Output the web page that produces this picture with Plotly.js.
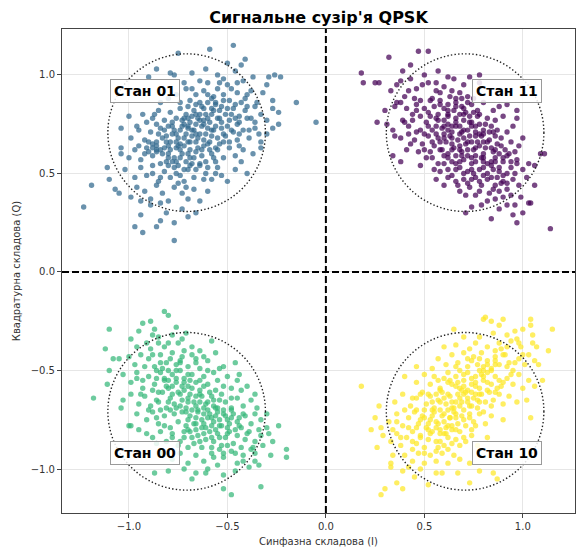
<!DOCTYPE html>
<html>
<head>
<meta charset="utf-8">
<script src="https://cdn.plot.ly/plotly-3.0.1.min.js"></script>
<style>html,body{margin:0;padding:0;background:#fff}#chart{width:578px;height:549px}</style>
</head>
<body>
<div id="chart"></div>
<script>
// ---- data ----
const stateNames = ['Стан 11', 'Стан 01', 'Стан 00', 'Стан 10'];
const stateColors = ['#440154', '#31688e', '#35b779', '#fde725'];
const idealI = [0.707, -0.707, -0.707, 0.707];
const idealQ = [0.707, 0.707, -0.707, -0.707];
const labelI = [0.92, -0.92, -0.92, 0.92];
const labelQ = [0.92, 0.92, -0.92, -0.92];
const circleRadius = 0.4;
const tickVals = [-1.0, -0.5, 0.0, 0.5, 1.0];

const pts01 = [
[-0.75,1.11],[-0.59,1.13],[-0.47,1.15],[-0.41,1.08],[-0.50,1.06],[-0.43,1.05],
[-0.90,0.99],[-0.86,1.03],[-0.79,1.01],[-0.77,1.00],[-0.68,1.01],[-0.61,1.03],[-0.55,1.00],[-0.52,0.98],[-0.46,1.02],[-0.42,0.97],[-0.29,0.99],[-0.26,1.00],[-0.23,0.99],[-0.37,0.99],[-0.64,0.97],[-0.72,0.96],[-0.50,0.95],[-0.45,0.96],[-0.30,0.95],
[-0.71,0.93],[-0.66,0.90],[-0.62,0.92],[-0.58,0.88],[-0.55,0.93],[-0.52,0.90],[-0.49,0.87],[-0.45,0.91],[-0.41,0.88],[-0.38,0.92],[-0.35,0.86],[-0.32,0.91],[-0.27,0.87],[-0.15,0.86],[-0.69,0.87],[-0.74,0.86],[-0.60,0.86],[-0.56,0.85],[-0.80,0.88],[-0.84,0.86],[-0.43,0.86],
[-1.00,0.79],[-0.93,0.80],[-0.88,0.78],[-0.85,0.82],[-0.82,0.77],[-0.79,0.81],[-0.76,0.78],[-0.74,0.83],[-0.71,0.80],[-0.69,0.76],[-0.67,0.82],[-0.65,0.78],[-0.63,0.84],[-0.61,0.80],[-0.59,0.76],[-0.57,0.82],[-0.55,0.78],[-0.53,0.84],[-0.51,0.80],[-0.49,0.77],[-0.47,0.83],[-0.44,0.79],[-0.41,0.82],[-0.38,0.78],[-0.36,0.84],[-0.33,0.80],[-0.30,0.77],[-0.24,0.81],[-0.24,0.75],[-0.05,0.76],[-0.27,0.83],[-0.72,0.75],[-0.62,0.75],[-0.58,0.80],[-0.66,0.80],[-0.70,0.84],[-0.78,0.76],[-0.86,0.75],[-0.53,0.76],[-0.45,0.75],
[-1.04,0.73],[-0.99,0.68],[-0.95,0.72],[-0.92,0.67],[-0.89,0.71],[-0.86,0.66],[-0.84,0.73],[-0.81,0.69],[-0.79,0.66],[-0.77,0.72],[-0.75,0.68],[-0.73,0.74],[-0.71,0.70],[-0.69,0.66],[-0.67,0.72],[-0.65,0.68],[-0.63,0.74],[-0.61,0.70],[-0.59,0.66],[-0.57,0.72],[-0.55,0.68],[-0.53,0.73],[-0.51,0.69],[-0.49,0.66],[-0.47,0.71],[-0.45,0.67],[-0.42,0.72],[-0.39,0.68],[-0.36,0.73],[-0.33,0.66],[-0.30,0.70],[-0.27,0.73],[-0.80,0.74],[-0.70,0.73],[-0.60,0.73],[-0.66,0.66],[-0.74,0.65],[-0.83,0.68],[-0.88,0.65],[-0.54,0.65],[-0.62,0.67],[-0.76,0.70],[-0.68,0.69],[-0.58,0.69],
[-1.04,0.63],[-1.04,0.60],[-1.00,0.58],[-0.97,0.62],[-0.94,0.57],[-0.91,0.63],[-0.88,0.59],[-0.86,0.64],[-0.83,0.60],[-0.81,0.56],[-0.79,0.62],[-0.77,0.58],[-0.75,0.64],[-0.73,0.60],[-0.71,0.56],[-0.69,0.62],[-0.67,0.58],[-0.65,0.63],[-0.63,0.59],[-0.61,0.56],[-0.59,0.62],[-0.57,0.58],[-0.55,0.62],[-0.52,0.58],[-0.49,0.63],[-0.46,0.59],[-0.43,0.56],[-0.42,0.62],[-0.37,0.60],[-0.33,0.63],[-0.84,0.55],[-0.72,0.64],[-0.64,0.55],[-0.56,0.56],[-0.68,0.55],[-0.76,0.56],[-0.86,0.61],[-0.80,0.64],
[-1.11,0.53],[-1.10,0.47],[-1.02,0.52],[-0.97,0.48],[-0.94,0.53],[-0.91,0.49],[-0.88,0.54],[-0.85,0.46],[-0.82,0.51],[-0.79,0.48],[-0.77,0.53],[-0.74,0.49],[-0.72,0.46],[-0.70,0.52],[-0.67,0.48],[-0.64,0.54],[-0.61,0.50],[-0.58,0.47],[-0.55,0.53],[-0.53,0.49],[-0.50,0.46],[-0.46,0.52],[-0.40,0.50],[-0.80,0.54],[-0.69,0.54],[-0.76,0.50],
[-1.19,0.44],[-1.07,0.42],[-1.05,0.40],[-0.99,0.38],[-0.96,0.43],[-0.92,0.41],[-0.89,0.37],[-0.86,0.44],[-0.83,0.40],[-0.80,0.36],[-0.77,0.43],[-0.73,0.40],[-0.70,0.37],[-0.67,0.42],[-0.64,0.36],[-0.60,0.41],[-0.84,0.35],[-0.94,0.36],[-0.75,0.45],
[-1.23,0.33],[-0.97,0.23],[-0.93,0.20],[-0.86,0.23],[-0.84,0.26],[-0.77,0.25],[-0.77,0.16],[-0.81,0.30],[-0.70,0.28],[-0.89,0.34],[-0.94,0.29],[-0.73,0.32],[-0.66,0.30],
[-0.72,0.78],[-0.64,0.80],[-0.56,0.74],[-0.60,0.78],[-0.68,0.72],[-0.74,0.62],[-0.82,0.63],[-0.62,0.64],[-0.50,0.74],[-0.54,0.82],[-0.66,0.85],[-0.78,0.70],[-0.70,0.60],[-0.58,0.60],[-0.48,0.80],[-0.64,0.70],[-0.76,0.66],[-0.86,0.62],[-0.90,0.61],[-0.72,0.52],[-0.60,0.53],[-0.66,0.75],[-0.52,0.70],[-0.46,0.78],[-0.57,0.89],[-0.40,0.84],[-0.44,0.70],[-0.80,0.58],[-0.70,0.66],[-0.62,0.83],
[-0.78,0.74],[-0.74,0.72],[-0.70,0.78],[-0.66,0.70],[-0.62,0.77],[-0.58,0.72],[-0.54,0.78],[-0.50,0.83],[-0.56,0.86],[-0.60,0.90],[-0.64,0.86],[-0.68,0.79],[-0.72,0.68],[-0.76,0.63],[-0.80,0.60],[-0.84,0.62],[-0.88,0.63],[-0.92,0.60],[-0.78,0.56],[-0.74,0.58],[-0.66,0.61],[-0.60,0.65],[-0.56,0.63],[-0.52,0.66],[-0.48,0.72],[-0.44,0.76],[-0.40,0.78],[-0.46,0.85],[-0.52,0.87],[-0.58,0.83],[-0.64,0.77],[-0.70,0.74],[-0.73,0.77],[-0.81,0.66],[-0.85,0.70],[-0.90,0.66],[-0.95,0.64],[-0.66,0.52],[-0.62,0.47],[-0.56,0.50],[-0.84,0.48],[-0.88,0.50],[-0.71,0.43],[-0.40,0.90],[-0.36,0.76],[-0.34,0.70],[-0.48,0.93],[-0.54,0.96],[-0.60,0.96],[-0.68,0.93],[-0.76,0.90],[-0.63,0.62],[-0.69,0.58],[-0.75,0.54],[-0.82,0.72],[-0.87,0.80],[-0.91,0.76],[-0.96,0.74],[-0.44,0.64],[-0.39,0.72]
];

const pts11 = [
[0.32,1.09],[0.47,1.12],[0.52,1.12],[0.43,1.05],[0.39,1.02],[0.18,1.01],[0.50,1.00],[0.62,0.99],[0.73,0.99],[0.78,1.00],[0.57,1.02],
[0.19,0.96],[0.25,0.96],[0.27,0.96],[0.36,0.95],[0.33,0.92],[0.43,0.98],[0.46,0.93],[0.42,0.92],[0.52,0.96],[0.56,0.96],[0.65,0.98],[0.78,0.96],[0.60,0.94],[0.68,0.91],[0.56,0.92],[0.49,0.95],[0.70,0.95],[0.64,0.92],[0.38,0.97],
[0.40,0.89],[0.45,0.88],[0.48,0.87],[0.53,0.87],[0.58,0.87],[0.63,0.89],[0.72,0.89],[0.92,0.85],[0.85,0.82],[0.71,0.81],[0.65,0.82],[0.57,0.80],[0.52,0.81],[0.30,0.82],[0.35,0.84],[0.41,0.83],[0.46,0.82],[0.55,0.84],[0.60,0.83],[0.66,0.86],[0.69,0.84],[0.74,0.85],[0.77,0.82],[0.80,0.86],[0.88,0.84],[0.97,0.82],[0.36,0.86],[0.62,0.85],[0.50,0.83],[0.75,0.81],
[0.26,0.76],[0.31,0.75],[0.39,0.77],[0.44,0.77],[0.48,0.79],[0.62,0.79],[0.82,0.78],[0.90,0.79],[0.97,0.78],[0.95,0.74],[0.87,0.72],[0.34,0.72],[0.42,0.74],[0.46,0.71],[0.51,0.76],[0.54,0.72],[0.57,0.77],[0.59,0.73],[0.62,0.75],[0.64,0.71],[0.66,0.78],[0.68,0.74],[0.70,0.77],[0.72,0.72],[0.74,0.76],[0.76,0.71],[0.78,0.75],[0.80,0.72],[0.84,0.74],[0.86,0.77],[0.92,0.71],[0.53,0.79],[0.69,0.71],[0.73,0.79],[0.60,0.70],[0.56,0.74],[0.48,0.72],[0.66,0.74],[0.83,0.71],
[0.35,0.69],[0.38,0.68],[0.43,0.65],[0.47,0.61],[1.00,0.68],[1.09,0.60],[1.11,0.60],[0.41,0.62],[0.45,0.67],[0.49,0.65],[0.52,0.69],[0.55,0.64],[0.57,0.68],[0.59,0.62],[0.61,0.66],[0.63,0.69],[0.65,0.63],[0.67,0.67],[0.69,0.61],[0.71,0.65],[0.73,0.69],[0.75,0.62],[0.77,0.66],[0.79,0.69],[0.81,0.63],[0.83,0.67],[0.85,0.61],[0.87,0.65],[0.89,0.68],[0.91,0.62],[0.94,0.66],[0.96,0.61],[0.98,0.64],[0.53,0.61],[0.62,0.60],[0.74,0.66],[0.80,0.66],[0.68,0.64],[0.86,0.69],[0.70,0.68],
[0.34,0.59],[0.38,0.56],[0.51,0.58],[0.54,0.58],[1.06,0.54],[0.57,0.55],[0.60,0.59],[0.62,0.52],[0.64,0.56],[0.66,0.59],[0.68,0.53],[0.70,0.57],[0.72,0.51],[0.74,0.55],[0.76,0.59],[0.78,0.52],[0.80,0.56],[0.82,0.50],[0.84,0.54],[0.86,0.58],[0.88,0.51],[0.90,0.56],[0.92,0.59],[0.94,0.53],[0.97,0.57],[1.00,0.52],[1.03,0.55],[0.58,0.51],[0.75,0.50],[0.85,0.52],[0.69,0.59],[0.79,0.58],[0.48,0.54],[0.66,0.52],
[0.56,0.47],[0.62,0.48],[0.67,0.44],[0.60,0.44],[0.64,0.49],[0.70,0.47],[0.73,0.43],[0.76,0.48],[0.79,0.44],[0.82,0.47],[0.85,0.42],[0.87,0.48],[0.89,0.45],[0.92,0.42],[0.95,0.47],[0.98,0.44],[1.06,0.44],[1.02,0.48],[0.80,0.49],[0.90,0.49],[0.68,0.41],[0.83,0.40],
[0.71,0.39],[0.71,0.30],[0.79,0.34],[0.84,0.27],[0.88,0.32],[0.92,0.34],[0.95,0.29],[0.96,0.34],[1.04,0.35],[1.03,0.35],[1.14,0.22],[0.76,0.39],[0.86,0.37],[0.90,0.38],[0.99,0.38],[0.94,0.39],[0.82,0.36],[0.74,0.33],[1.00,0.30],[0.97,0.25],
[0.66,0.76],[0.70,0.72],[0.64,0.68],[0.72,0.62],[0.76,0.69],[0.80,0.60],[0.84,0.63],[0.68,0.80],[0.62,0.72],[0.74,0.58],[0.78,0.64],[0.82,0.55],[0.86,0.56],[0.70,0.83],[0.66,0.88],[0.60,0.77],[0.58,0.66],[0.88,0.60],[0.92,0.50],[0.76,0.74],[0.72,0.86],[0.80,0.70],[0.64,0.62],[0.90,0.46],[0.68,0.56],[0.56,0.70],[0.74,0.52],[0.84,0.48],[0.62,0.80],[0.78,0.80],
[0.64,0.74],[0.68,0.70],[0.72,0.66],[0.76,0.63],[0.80,0.58],[0.84,0.56],[0.88,0.53],[0.62,0.82],[0.58,0.85],[0.54,0.88],[0.66,0.84],[0.70,0.80],[0.74,0.74],[0.78,0.70],[0.82,0.66],[0.86,0.62],[0.90,0.58],[0.94,0.56],[0.60,0.74],[0.56,0.78],[0.52,0.74],[0.50,0.70],[0.54,0.66],[0.58,0.62],[0.62,0.58],[0.66,0.55],[0.70,0.50],[0.74,0.47],[0.78,0.46],[0.80,0.53],[0.76,0.56],[0.72,0.59],[0.68,0.62],[0.64,0.65],[0.60,0.68],[0.73,0.76],[0.77,0.79],[0.81,0.75],[0.85,0.71],[0.89,0.64],[0.93,0.60],[0.97,0.55],[0.46,0.85],[0.44,0.80],[0.40,0.76],[0.38,0.86],[0.42,0.70],[0.50,0.62],[0.86,0.44],[0.92,0.45],[0.96,0.50],[0.88,0.41],[0.78,0.41],[0.72,0.45],[0.66,0.46],[0.60,0.55],[0.55,0.52],[0.69,0.88],[0.75,0.88],[0.58,0.91]
];

const pts00 = [
[-0.82,-0.20],[-0.80,-0.22],[-0.89,-0.25],[-0.93,-0.26],[-1.10,-0.29],[-0.95,-0.30],[-0.87,-0.29],[-0.99,-0.34],[-0.71,-0.31],[-0.78,-0.32],[-0.75,-0.36],[-0.85,-0.36],[-0.89,-0.39],[-0.58,-0.35],[-1.12,-0.39],[-0.91,-0.36],[-0.82,-0.38],[-0.96,-0.38],[-0.68,-0.38],[-0.73,-0.34],[-0.85,-0.33],
[-1.08,-0.44],[-1.05,-0.44],[-0.94,-0.42],[-0.62,-0.43],[-0.66,-0.46],[-0.46,-0.46],[-0.54,-0.49],[-1.00,-0.43],[-0.97,-0.47],[-0.90,-0.44],[-0.87,-0.48],[-0.84,-0.42],[-0.81,-0.46],[-0.78,-0.41],[-0.76,-0.47],[-0.73,-0.43],[-0.70,-0.48],[-0.68,-0.42],[-0.64,-0.49],[-0.60,-0.45],[-0.56,-0.41],[-0.83,-0.49],[-0.74,-0.45],[-0.79,-0.44],
[-1.10,-0.50],[-1.11,-0.57],[-0.93,-0.55],[-0.43,-0.60],[-0.48,-0.59],[-1.03,-0.52],[-0.99,-0.56],[-0.96,-0.51],[-0.93,-0.59],[-0.90,-0.53],[-0.87,-0.57],[-0.84,-0.51],[-0.82,-0.55],[-0.80,-0.59],[-0.78,-0.52],[-0.76,-0.56],[-0.74,-0.50],[-0.72,-0.54],[-0.70,-0.58],[-0.68,-0.52],[-0.66,-0.56],[-0.64,-0.60],[-0.62,-0.53],[-0.60,-0.57],[-0.57,-0.51],[-0.55,-0.55],[-0.52,-0.58],[-0.50,-0.53],[-0.45,-0.55],[-0.73,-0.58],[-0.69,-0.55],[-0.81,-0.58],[-0.86,-0.54],
[-1.18,-0.64],[-1.03,-0.65],[-1.04,-0.69],[-0.85,-0.61],[-0.99,-0.62],[-0.95,-0.67],[-0.92,-0.63],[-0.89,-0.68],[-0.86,-0.65],[-0.83,-0.61],[-0.81,-0.69],[-0.79,-0.64],[-0.77,-0.67],[-0.75,-0.61],[-0.73,-0.65],[-0.71,-0.69],[-0.69,-0.62],[-0.67,-0.66],[-0.65,-0.70],[-0.63,-0.63],[-0.61,-0.67],[-0.59,-0.61],[-0.57,-0.65],[-0.55,-0.69],[-0.53,-0.62],[-0.51,-0.66],[-0.48,-0.70],[-0.45,-0.64],[-0.42,-0.68],[-0.38,-0.65],[-0.35,-0.69],[-0.62,-0.69],[-0.70,-0.66],[-0.76,-0.69],[-0.57,-0.68],[-0.64,-0.66],[-0.54,-0.65],
[-0.96,-0.72],[-1.00,-0.78],[-0.99,-0.78],[-0.95,-0.80],[-0.24,-0.78],[-0.91,-0.75],[-0.88,-0.71],[-0.85,-0.77],[-0.82,-0.73],[-0.79,-0.79],[-0.77,-0.72],[-0.75,-0.76],[-0.73,-0.71],[-0.71,-0.78],[-0.69,-0.73],[-0.67,-0.77],[-0.65,-0.71],[-0.63,-0.75],[-0.61,-0.79],[-0.59,-0.72],[-0.57,-0.76],[-0.55,-0.71],[-0.53,-0.78],[-0.51,-0.73],[-0.49,-0.77],[-0.47,-0.72],[-0.45,-0.76],[-0.43,-0.79],[-0.41,-0.73],[-0.38,-0.77],[-0.36,-0.72],[-0.33,-0.75],[-0.30,-0.79],[-0.60,-0.74],[-0.66,-0.74],[-0.54,-0.75],[-0.70,-0.75],[-0.50,-0.79],[-0.44,-0.74],
[-0.91,-0.82],[-0.86,-0.87],[-0.33,-0.83],[-0.29,-0.82],[-0.37,-0.89],[-0.20,-0.90],[-0.88,-0.84],[-0.84,-0.81],[-0.81,-0.86],[-0.78,-0.82],[-0.75,-0.88],[-0.72,-0.84],[-0.69,-0.81],[-0.67,-0.87],[-0.65,-0.83],[-0.63,-0.89],[-0.61,-0.85],[-0.59,-0.81],[-0.57,-0.86],[-0.55,-0.82],[-0.53,-0.88],[-0.51,-0.84],[-0.49,-0.81],[-0.47,-0.87],[-0.45,-0.83],[-0.43,-0.89],[-0.41,-0.85],[-0.39,-0.81],[-0.36,-0.86],[-0.32,-0.88],[-0.27,-0.86],[-0.58,-0.89],[-0.64,-0.86],[-0.70,-0.89],
[-0.84,-0.92],[-0.87,-1.02],[-0.80,-1.01],[-0.72,-1.00],[-0.66,-1.02],[-0.61,-1.02],[-0.52,-1.03],[-0.52,-1.10],[-0.48,-1.13],[-0.33,-1.09],[-0.34,-0.98],[-0.28,-0.93],[-0.20,-0.94],[-0.36,-0.92],[-0.78,-0.95],[-0.74,-0.92],[-0.70,-0.97],[-0.66,-0.93],[-0.62,-0.96],[-0.58,-0.92],[-0.55,-0.98],[-0.52,-0.94],[-0.48,-0.91],[-0.45,-0.97],[-0.42,-0.93],[-0.39,-0.99],[-0.60,-1.00],[-0.68,-1.05],[-0.36,-0.96],[-0.46,-1.01],
[-0.72,-0.60],[-0.66,-0.63],[-0.60,-0.70],[-0.56,-0.73],[-0.52,-0.70],[-0.62,-0.77],[-0.68,-0.70],[-0.74,-0.68],[-0.78,-0.62],[-0.80,-0.55],[-0.70,-0.52],[-0.58,-0.63],[-0.50,-0.75],[-0.46,-0.80],[-0.54,-0.84],[-0.66,-0.80],[-0.72,-0.81],[-0.84,-0.70],[-0.88,-0.60],[-0.76,-0.50],[-0.64,-0.55],[-0.48,-0.69],[-0.42,-0.72],[-0.58,-0.78],[-0.62,-0.58],[-0.74,-0.46],[-0.80,-0.66],[-0.56,-0.80],[-0.68,-0.84],[-0.52,-0.92],
[-0.74,-0.62],[-0.70,-0.64],[-0.66,-0.68],[-0.62,-0.72],[-0.58,-0.74],[-0.54,-0.78],[-0.50,-0.82],[-0.78,-0.58],[-0.82,-0.54],[-0.86,-0.50],[-0.76,-0.54],[-0.72,-0.56],[-0.68,-0.59],[-0.64,-0.62],[-0.60,-0.66],[-0.56,-0.69],[-0.52,-0.72],[-0.48,-0.74],[-0.44,-0.78],[-0.40,-0.82],[-0.80,-0.50],[-0.84,-0.46],[-0.88,-0.42],[-0.92,-0.48],[-0.96,-0.54],[-0.94,-0.62],[-0.90,-0.70],[-0.86,-0.74],[-0.82,-0.78],[-0.78,-0.84],[-0.74,-0.86],[-0.70,-0.80],[-0.66,-0.77],[-0.62,-0.82],[-0.58,-0.84],[-0.54,-0.90],[-0.50,-0.88],[-0.46,-0.92],[-0.42,-0.96],[-0.38,-0.90],[-0.34,-0.80],[-0.30,-0.72],[-0.36,-0.62],[-0.40,-0.58],[-0.44,-0.52],[-0.52,-0.48],[-0.60,-0.50],[-0.66,-0.44],[-0.72,-0.40],[-0.80,-0.36],[-0.88,-0.32],[-0.76,-0.28],[-0.64,-0.40],[-0.56,-0.60],[-0.48,-0.64],[-0.71,-0.71],[-0.63,-0.79],[-0.79,-0.70],[-0.85,-0.66],[-0.57,-0.94]
];

const pts10 = [
[0.81,-0.23],[0.80,-0.24],[0.84,-0.25],[0.88,-0.27],[0.90,-0.24],[1.04,-0.24],[1.04,-0.27],[1.00,-0.29],[1.15,-0.29],[1.05,-0.32],[1.05,-0.36],[1.07,-0.38],[0.94,-0.35],[0.65,-0.29],[0.78,-0.33],[0.76,-0.36],[0.70,-0.33],[0.85,-0.31],[0.88,-0.36],[0.92,-0.32],[0.97,-0.34],[0.99,-0.38],[0.82,-0.38],[0.73,-0.39],[0.66,-0.37],[0.60,-0.38],[0.89,-0.39],[1.13,-0.40],[0.96,-0.30],
[1.06,-0.45],[1.08,-0.47],[0.57,-0.44],[0.61,-0.47],[0.64,-0.42],[0.67,-0.46],[0.70,-0.41],[0.72,-0.48],[0.75,-0.43],[0.77,-0.47],[0.79,-0.41],[0.82,-0.45],[0.84,-0.49],[0.86,-0.43],[0.88,-0.47],[0.91,-0.42],[0.93,-0.46],[0.95,-0.50],[0.98,-0.44],[1.01,-0.47],[1.03,-0.42],[0.54,-0.49],[0.46,-0.48],[0.80,-0.48],[0.74,-0.45],
[1.10,-0.55],[1.06,-0.58],[1.00,-0.59],[0.18,-0.58],[0.40,-0.53],[0.46,-0.56],[0.50,-0.52],[0.53,-0.57],[0.55,-0.53],[0.58,-0.59],[0.60,-0.54],[0.62,-0.51],[0.64,-0.57],[0.66,-0.53],[0.68,-0.59],[0.70,-0.55],[0.72,-0.51],[0.74,-0.57],[0.76,-0.53],[0.78,-0.59],[0.80,-0.55],[0.82,-0.51],[0.84,-0.57],[0.86,-0.53],[0.89,-0.58],[0.92,-0.54],[0.95,-0.57],[0.98,-0.52],[1.03,-0.55],[0.67,-0.56],[0.57,-0.55],[0.79,-0.52],[0.87,-0.59],[0.63,-0.55],
[1.02,-0.65],[0.27,-0.68],[0.35,-0.66],[0.39,-0.62],[0.43,-0.68],[0.46,-0.64],[0.49,-0.61],[0.51,-0.67],[0.53,-0.63],[0.55,-0.69],[0.57,-0.65],[0.59,-0.61],[0.61,-0.67],[0.63,-0.63],[0.65,-0.69],[0.67,-0.62],[0.69,-0.66],[0.71,-0.61],[0.73,-0.68],[0.75,-0.64],[0.77,-0.69],[0.79,-0.62],[0.81,-0.66],[0.83,-0.61],[0.85,-0.65],[0.88,-0.62],[0.90,-0.67],[0.93,-0.63],[0.97,-0.66],[0.60,-0.64],[0.66,-0.66],[0.72,-0.64],[0.56,-0.62],[0.64,-0.66],[0.76,-0.62],
[0.25,-0.74],[0.23,-0.80],[0.28,-0.79],[1.04,-0.74],[0.32,-0.76],[0.36,-0.72],[0.39,-0.78],[0.42,-0.74],[0.45,-0.71],[0.47,-0.77],[0.49,-0.73],[0.51,-0.79],[0.53,-0.75],[0.55,-0.71],[0.57,-0.77],[0.59,-0.73],[0.61,-0.79],[0.63,-0.74],[0.65,-0.71],[0.67,-0.77],[0.69,-0.73],[0.71,-0.78],[0.73,-0.72],[0.75,-0.76],[0.78,-0.72],[0.81,-0.77],[0.84,-0.73],[0.90,-0.75],[0.60,-0.76],[0.66,-0.74],[0.54,-0.73],[0.70,-0.75],[0.48,-0.75],
[0.26,-0.89],[0.29,-0.83],[0.33,-0.86],[0.36,-0.82],[0.38,-0.88],[0.41,-0.84],[0.44,-0.81],[0.46,-0.87],[0.48,-0.83],[0.50,-0.89],[0.52,-0.85],[0.54,-0.81],[0.56,-0.86],[0.58,-0.82],[0.60,-0.88],[0.62,-0.84],[0.64,-0.80],[0.66,-0.85],[0.68,-0.81],[0.71,-0.86],[0.74,-0.83],[0.77,-0.88],[0.82,-0.84],[0.53,-0.82],[0.57,-0.89],[0.61,-0.82],
[0.33,-0.97],[0.33,-0.99],[0.36,-1.07],[0.39,-1.10],[0.30,-1.10],[0.28,-1.13],[0.34,-0.93],[0.39,-1.01],[0.42,-0.99],[0.52,-1.08],[0.56,-1.02],[0.59,-1.02],[0.67,-1.02],[0.73,-1.07],[0.73,-0.97],[0.78,-1.01],[0.85,-1.02],[0.87,-1.05],[0.40,-0.93],[0.44,-0.96],[0.47,-0.92],[0.50,-0.97],[0.53,-0.93],[0.56,-0.96],[0.59,-0.92],[0.62,-0.97],[0.65,-0.93],[0.68,-0.95],[0.48,-1.00],[0.45,-1.04],
[0.62,-0.70],[0.68,-0.68],[0.72,-0.66],[0.66,-0.72],[0.58,-0.70],[0.64,-0.78],[0.70,-0.62],[0.76,-0.58],[0.74,-0.61],[0.60,-0.82],[0.56,-0.79],[0.52,-0.77],[0.78,-0.66],[0.82,-0.60],[0.80,-0.50],[0.86,-0.47],[0.70,-0.52],[0.66,-0.48],[0.54,-0.66],[0.50,-0.70],[0.46,-0.79],[0.62,-0.90],[0.58,-0.86],[0.68,-0.88],[0.74,-0.80],[0.88,-0.55],[0.92,-0.48],[0.84,-0.68],[0.48,-0.62],[0.44,-0.86],
[0.60,-0.72],[0.64,-0.69],[0.68,-0.64],[0.72,-0.60],[0.76,-0.56],[0.80,-0.53],[0.84,-0.50],[0.56,-0.76],[0.52,-0.80],[0.48,-0.84],[0.58,-0.66],[0.62,-0.62],[0.66,-0.58],[0.70,-0.58],[0.74,-0.54],[0.78,-0.50],[0.82,-0.47],[0.86,-0.45],[0.90,-0.42],[0.54,-0.70],[0.50,-0.74],[0.46,-0.70],[0.42,-0.79],[0.38,-0.84],[0.62,-0.78],[0.66,-0.80],[0.70,-0.70],[0.74,-0.68],[0.78,-0.62],[0.82,-0.56],[0.86,-0.61],[0.90,-0.56],[0.94,-0.52],[0.96,-0.46],[1.00,-0.42],[0.98,-0.36],[0.92,-0.38],[0.86,-0.40],[0.78,-0.44],[0.72,-0.44],[0.68,-0.50],[0.62,-0.56],[0.58,-0.60],[0.52,-0.62],[0.44,-0.64],[0.40,-0.70],[0.36,-0.76],[0.34,-0.80],[0.44,-0.90],[0.50,-0.92],[0.56,-0.91],[0.64,-0.87],[0.70,-0.84],[0.76,-0.78],[0.80,-0.71],[0.73,-0.74],[0.63,-0.74],[0.58,-0.80],[0.69,-0.60],[0.77,-0.65]
];

const statePoints = [pts11, pts01, pts00, pts10];

// ---- traces ----
const traces = statePoints.map((pts, k) => ({
  type: 'scatter',
  mode: 'markers',
  name: stateNames[k],
  x: pts.map(p => p[0]),
  y: pts.map(p => p[1]),
  marker: {color: stateColors[k], size: 5.4, opacity: 0.72, line: {width: 0}},
  hoverinfo: 'skip'
}));

const shapes = [];
for (let k = 0; k < 4; k++) {
  shapes.push({
    type: 'circle', xref: 'x', yref: 'y',
    x0: idealI[k] - circleRadius, x1: idealI[k] + circleRadius,
    y0: idealQ[k] - circleRadius, y1: idealQ[k] + circleRadius,
    line: {color: '#222', width: 1.4, dash: '1.4px,2.2px'}, layer: 'above'
  });
}
shapes.push({type: 'line', xref: 'paper', yref: 'y', x0: 0, x1: 1, y0: 0, y1: 0,
  line: {color: '#000', width: 2, dash: '7px,3px'}, layer: 'above'});
shapes.push({type: 'line', xref: 'x', yref: 'paper', x0: 0, x1: 0, y0: 0, y1: 1,
  line: {color: '#000', width: 2, dash: '7px,3px'}, layer: 'above'});

const annotations = stateNames.map((name, k) => ({
  x: labelI[k], y: labelQ[k], xref: 'x', yref: 'y',
  text: '<b>' + name + '</b>', showarrow: false,
  font: {family: 'DejaVu Sans', size: 14, color: '#000'},
  bgcolor: 'rgba(255,255,255,0.85)', bordercolor: '#9a9a9a', borderwidth: 1, borderpad: 3
}));

const axisCommon = {
  tickvals: tickVals, tickformat: '.1f',
  showgrid: true, gridcolor: '#e6e6e6', gridwidth: 1,
  zeroline: false, showline: true, mirror: true, linecolor: '#444', linewidth: 1,
  ticks: 'outside', ticklen: 4, tickcolor: '#444', tickwidth: 1,
  tickfont: {family: 'DejaVu Sans', size: 10, color: '#333'},
  fixedrange: true
};

const layout = {
  width: 578, height: 549,
  margin: {l: 62, r: 3, t: 29, b: 36},
  paper_bgcolor: '#fff', plot_bgcolor: '#fff',
  showlegend: false,
  title: {text: '<b>Сигнальне сузір\'я QPSK</b>', x: 0.551, xref: 'container', y: 0.969, yref: 'container', yanchor: 'middle',
    font: {family: 'DejaVu Sans', size: 16, color: '#000'}},
  xaxis: Object.assign({}, axisCommon, {range: [-1.34, 1.265],
    title: {text: 'Синфазна складова (I)', font: {family: 'DejaVu Sans', size: 10, color: '#333'}, standoff: 6}}),
  yaxis: Object.assign({}, axisCommon, {range: [-1.223, 1.233],
    title: {text: 'Квадратурна складова (Q)', font: {family: 'DejaVu Sans', size: 10, color: '#333'}, standoff: 8}}),
  shapes: shapes,
  annotations: annotations
};

Plotly.newPlot('chart', traces, layout, {staticPlot: true, displayModeBar: false});
</script>
</body>
</html>
